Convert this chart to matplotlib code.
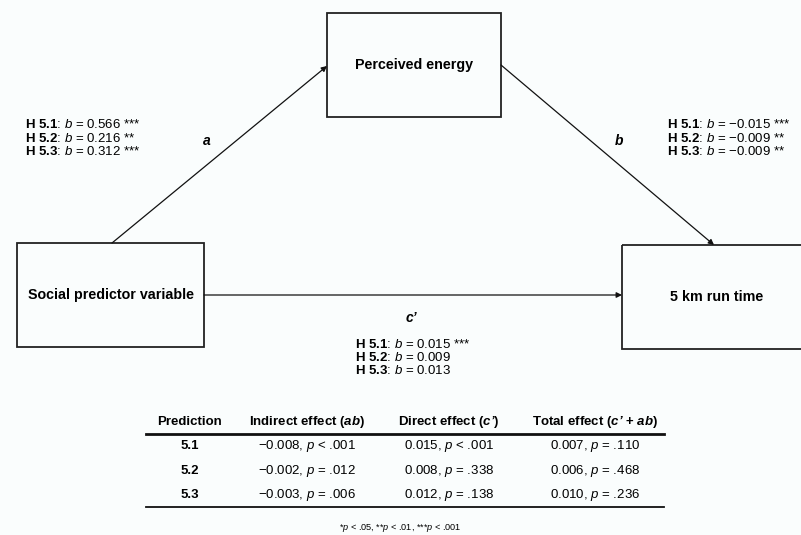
import matplotlib.pyplot as plt
from matplotlib.patches import Rectangle

plt.rcParams['font.family'] = ['Liberation Sans', 'DejaVu Sans']
plt.rcParams['mathtext.fontset'] = 'custom'
plt.rcParams['mathtext.rm'] = 'Liberation Sans'
plt.rcParams['mathtext.it'] = 'Liberation Sans:italic'
plt.rcParams['mathtext.bf'] = 'Liberation Sans:bold'
plt.rcParams['mathtext.bfit'] = 'Liberation Sans:italic:bold'

# path coefficients per hypothesis
hyps = ['5.1', '5.2', '5.3']
a_coef = ['0.566 ***', '0.216 **', '0.312 ***']
b_coef = ['\u22120.015 ***', '\u22120.009 **', '\u22120.009 **']
c_coef = ['0.015 ***', '0.009', '0.013']

# mediation table
col_heads = ['Prediction', 'Indirect effect ($\\mathbfit{ab}$)',
             'Direct effect ($\\mathbfit{c\u2019}$)',
             'Total effect ($\\mathbfit{c\u2019}$ + $\\mathbfit{ab}$)']
indirect = [('\u22120.008', '<', '.001'), ('\u22120.002', '=', '.012'), ('\u22120.003', '=', '.006')]
direct = [('0.015', '<', '.001'), ('0.008', '=', '.338'), ('0.012', '=', '.138')]
total = [('0.007', '=', '.110'), ('0.006', '=', '.468'), ('0.010', '=', '.236')]

BG = '#fafdfd'
fig = plt.figure(figsize=(8.01, 5.35), dpi=100)
fig.patch.set_facecolor(BG)
ax = fig.add_axes([0, 0, 1, 1])
ax.set_facecolor(BG)
ax.set_xlim(0, 801)
ax.set_ylim(535, 0)
ax.axis('off')


def box(x0, y0, x1, y1, label):
    ax.add_patch(Rectangle((x0, y0), x1 - x0, y1 - y0, fill=False, lw=1.3, ec='#222222'))
    ax.text((x0 + x1) / 2, (y0 + y1) / 2, label, ha='center', va='center',
            fontsize=10.3, fontweight='bold')


def arrow(p0, p1):
    ax.annotate('', xy=p1, xytext=p0,
                arrowprops=dict(arrowstyle='-|>', mutation_scale=8, lw=0.9,
                                color='#111111', shrinkA=0, shrinkB=0))


box(17, 243, 204, 347, 'Social predictor variable')
box(327, 13, 501, 117, 'Perceived energy')
box(622, 245, 812, 349, '5 km run time')

arrow((112, 243), (327, 66))
arrow((501, 65), (714, 245))
arrow((204, 295), (622, 295))

ax.text(207, 141, 'a', ha='center', va='center', fontsize=10, fontweight='bold', style='italic')
ax.text(619, 141, 'b', ha='center', va='center', fontsize=10, fontweight='bold', style='italic')
ax.text(411, 318, 'c\u2019', ha='center', va='center', fontsize=10, fontweight='bold', style='italic')


def stats(x, y0, vals):
    for i, (h, v) in enumerate(zip(hyps, vals)):
        ax.text(x, y0 + i * 13.2, r'$\mathbf{H\ %s}$: $\mathit{b}$ = %s' % (h, v),
                ha='left', va='center', fontsize=9.5)


stats(25, 125, a_coef)
stats(667, 125, b_coef)
stats(355, 344, c_coef)

# table
col_x = [190, 307, 449, 595]
for x, h in zip(col_x, col_heads):
    ax.text(x, 422, h, ha='center', va='center', fontsize=9.5, fontweight='bold')
ax.plot([146, 664], [434, 434], color='#111111', lw=2)
row_y = [446, 471, 495]
for i, y in enumerate(row_y):
    ax.text(col_x[0], y, hyps[i], ha='center', va='center', fontsize=9.5, fontweight='bold')
    for x, col in zip(col_x[1:], [indirect, direct, total]):
        est, op, p = col[i]
        ax.text(x, y, r'%s, $\mathit{p}$ %s %s' % (est, op, p), ha='center', va='center', fontsize=9.5)
ax.plot([146, 664], [507, 507], color='#111111', lw=1.3)

ax.text(400, 528, r'*$\mathit{p}$ < .05, **$\mathit{p}$ < .01, ***$\mathit{p}$ < .001',
        ha='center', va='center', fontsize=6.6)

fig.savefig('out.png', dpi=100, facecolor=BG)
